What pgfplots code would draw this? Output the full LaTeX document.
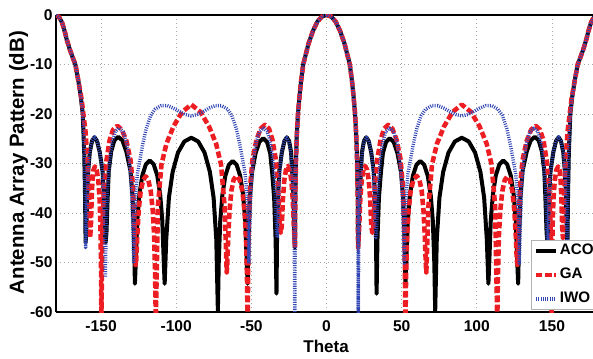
\documentclass[border=0pt]{standalone}
\usepackage{pgfplots}
\pgfplotsset{compat=1.18}
\usepackage{fontspec}
\setmainfont{Liberation Sans}
\definecolor{gared}{RGB}{236,30,36}
\definecolor{iwoblue}{RGB}{50,70,180}
\begin{document}
\begin{tikzpicture}
\useasboundingbox (-28pt,-23pt) rectangle (268.5pt,156pt);
\begin{axis}[
  scale only axis, width=268.5pt, height=148.5pt,
  xmin=-180, xmax=177.3, ymin=-60, ymax=0,
  xtick={-150,-100,-50,0,50,100,150},
  ytick={-60,-50,-40,-30,-20,-10,0},
  axis x line*=box, axis y line*=left,
  xticklabel pos=lower,
  axis line style={black, line width=0.6pt},
  major tick length=0pt,
  grid=major,
  grid style={gray!70, line width=0.4pt, dash pattern=on 0.6pt off 1.4pt},
  /pgf/number format/assume math mode=true,
  tick label style={font=\bfseries\fontsize{7.8}{9}\selectfont},
  yticklabel style={inner sep=1.5pt},
  xticklabel style={inner sep=1pt, yshift=-3pt},
  xlabel={Theta}, ylabel={Antenna Array Pattern (dB)},
  every axis x label/.style={at={(axis description cs:0.503,-0.1162)}, anchor=center, font=\bfseries\fontsize{8.5}{10}\selectfont},
  every axis y label/.style={at={(axis description cs:-0.0698,0.503)}, rotate=90, anchor=center, font=\bfseries\fontsize{10.2}{12}\selectfont},
  legend cell align=left,
  legend style={at={(0.885,0.2424)}, anchor=north west, draw=gray!60, line width=0.4pt, fill=white,
    font=\bfseries\fontsize{7.6}{9}\selectfont, inner sep=1pt, row sep=3.6pt, column sep=0pt,
    nodes={inner sep=0.8pt}},
  legend image code/.code={\draw[#1] (0pt,0pt) -- (10pt,0pt);},
  every axis plot/.append style={line join=round},
]
\addplot[black, line width=2pt] coordinates {
(-180,0) (-178,-0.4) (-176,-1.5) (-174,-3.5) (-173,-4.8) (-171,-6.8) (-169,-8.5) (-167.1,-10) (-165,-13.5) (-163.5,-16.5) (-162.2,-20) (-161.2,-28) (-160.7,-36) (-160.3,-46)
(-159.9,-44) (-159.3,-36.8) (-158.6,-31.6) (-157.5,-27.7) (-156.0,-25.45) (-154.4,-24.7) (-152.7,-25.45) (-150.9,-27.7) (-149.0,-31.6) (-148.06,-36.8) (-147.4,-44) (-147,-46)
(-146.42,-44) (-145.6,-36.7) (-144.9,-31.5) (-143.3,-27.6) (-141.2,-25.35) (-138.6,-24.6) (-135.8,-25.35) (-133.2,-27.6) (-130.43,-31.5) (-129.06,-36.7) (-128.09,-45.1) (-127.5,-54.3)
(-126.91,-49.9) (-125.92,-41.5) (-124.53,-36.3) (-122.55,-32.4) (-120.17,-30.15) (-117.6,-29.4) (-115.03,-30.15) (-112.65,-32.4) (-110.67,-36.3) (-109.28,-41.5) (-108.29,-49.9) (-107.7,-54.3)
(-106.64,-45.3) (-104.87,-36.9) (-102.39,-31.7) (-98.85,-27.8) (-94.6,-25.55) (-90,-24.8) (-85.4,-25.55) (-81.15,-27.8) (-77.61,-31.7) (-75.13,-36.9) (-73.36,-45.3) (-72.3,-59.8)
(-71.71,-50.0) (-70.72,-41.6) (-69.33,-36.4) (-67.35,-32.5) (-64.97,-30.25) (-62.4,-29.5) (-59.83,-30.25) (-57.45,-32.5) (-55.47,-36.4) (-54.08,-41.6) (-53.09,-50.0) (-52.5,-54.3)
(-51.9,-45.4) (-51.0,-37.0) (-49.6,-31.8) (-47.2,-27.9) (-44.7,-25.65) (-42.1,-24.9) (-39.6,-25.65) (-37.5,-27.9) (-36.18,-31.8) (-34.84,-37.0) (-33.88,-45.4) (-33.3,-56.3)
(-32.93,-45.2) (-32.32,-36.8) (-31.46,-31.6) (-29.7,-27.7) (-28.0,-25.45) (-26.4,-24.7) (-24.9,-25.45) (-23.6,-27.7) (-22.85,-31.6) (-21.98,-36.8) (-21.37,-45.2) (-21,-47)
(-20.8,-37) (-20.4,-30) (-19.8,-24.5) (-19,-20) (-18,-16.5) (-17,-13.5) (-15.5,-10) (-14,-8.2) (-12,-5.8) (-9,-3.2) (-6,-1.3) (-3,-0.3)
(0,0) (3,-0.3) (6,-1.3) (9,-3.2) (12,-5.8) (14,-8.2) (15.5,-10) (17,-13.5) (18,-16.5) (19,-20) (19.8,-24.5) (20.4,-30) (20.8,-37) (21,-47)
(21.37,-45.2) (21.98,-36.8) (22.85,-31.6) (23.6,-27.7) (24.9,-25.45) (26.4,-24.7) (28.0,-25.45) (29.7,-27.7) (31.46,-31.6) (32.32,-36.8) (32.93,-45.2) (33.3,-56.3)
(33.88,-45.4) (34.84,-37.0) (36.18,-31.8) (37.5,-27.9) (39.6,-25.65) (42.1,-24.9) (44.7,-25.65) (47.2,-27.9) (49.6,-31.8) (51.0,-37.0) (51.9,-45.4) (52.5,-54.3)
(53.09,-50.0) (54.08,-41.6) (55.47,-36.4) (57.45,-32.5) (59.83,-30.25) (62.4,-29.5) (64.97,-30.25) (67.35,-32.5) (69.33,-36.4) (70.72,-41.6) (71.71,-50.0) (72.3,-59.8)
(73.36,-45.3) (75.13,-36.9) (77.61,-31.7) (81.15,-27.8) (85.4,-25.55) (90,-24.8) (94.6,-25.55) (98.85,-27.8) (102.39,-31.7) (104.87,-36.9) (106.64,-45.3) (107.7,-54.3)
(108.29,-49.9) (109.28,-41.5) (110.67,-36.3) (112.65,-32.4) (115.03,-30.15) (117.6,-29.4) (120.17,-30.15) (122.55,-32.4) (124.53,-36.3) (125.92,-41.5) (126.91,-49.9) (127.5,-54.3)
(128.09,-45.1) (129.06,-36.7) (130.43,-31.5) (133.2,-27.6) (135.8,-25.35) (138.6,-24.6) (141.2,-25.35) (143.3,-27.6) (144.9,-31.5) (145.6,-36.7) (146.42,-44) (147,-46)
(147.4,-44) (148.06,-36.8) (149.0,-31.6) (150.9,-27.7) (152.7,-25.45) (154.4,-24.7) (156.0,-25.45) (157.5,-27.7) (158.6,-31.6) (159.3,-36.8) (159.9,-44) (160.3,-46)
(160.7,-36) (161.2,-28) (162.2,-20) (163.5,-16.5) (165,-13.5) (167.1,-10) (169,-8.5) (171,-6.8) (173,-4.8) (174,-3.5) (176,-1.5) (178,-0.4) (180,0)
};
\addlegendentry{ACO}
\addplot[gared, line width=2.3pt, dash pattern=on 3.2pt off 1.4pt] coordinates {
(-180,0) (-178,-0.4) (-176,-1.5) (-174,-3.5) (-173,-4.8) (-171,-6.8) (-169,-8.5) (-167.1,-10) (-165,-13.5) (-163,-17) (-161.6,-20.5) (-160.4,-23.5) (-159.3,-28.3) (-158.2,-36) (-157.3,-45)
(-156.8,-42.7) (-156.3,-37.5) (-155.8,-33.6) (-155.1,-31.35) (-154.1,-30.6) (-152.9,-31.35) (-151.8,-33.6) (-150.93,-37.5) (-150.4,-42.7) (-150.03,-51.1) (-149.8,-62)
(-149.12,-42.9) (-147.98,-34.5) (-146.38,-29.3) (-144.4,-25.4) (-142,-23.15) (-139.2,-22.4) (-136.2,-23.15) (-133.2,-25.4) (-130.42,-29.3) (-128.82,-34.5) (-127.68,-42.9) (-127,-50.5)
(-126.6,-49.5) (-125.93,-44.7) (-124.99,-39.5) (-123.65,-35.6) (-122.04,-33.35) (-120.3,-32.6) (-118.56,-33.35) (-116.95,-35.6) (-115.61,-39.5) (-114.67,-44.7) (-114.0,-53.1) (-113.6,-62)
(-112.18,-38.6) (-109.82,-30.2) (-106.52,-26) (-101.8,-22.5) (-96.14,-19.6) (-90,-18.1) (-83.86,-19.6) (-78.2,-22.5) (-73.48,-26) (-70.18,-30.2) (-67.82,-38.6) (-66.4,-52)
(-66.08,-50.5) (-65.38,-44.6) (-64.5,-39.4) (-63.3,-35.5) (-61.8,-33.25) (-60,-32.5) (-57.9,-33.25) (-56.0,-35.5) (-54.6,-39.4) (-53.62,-44.6) (-52.92,-53) (-52.5,-62)
(-51.84,-42.7) (-50.74,-34.3) (-49.2,-29.1) (-46.6,-25.2) (-43.8,-22.95) (-41.0,-22.2) (-38.3,-22.95) (-36.0,-25.2) (-33.8,-29.1) (-32.26,-34.3) (-31.16,-42.7) (-30.5,-44)
(-29.74,-42.6) (-29.08,-37.4) (-28.13,-33.5) (-26.98,-31.25) (-25.75,-30.5) (-24.52,-31.25) (-23.38,-33.5) (-22.43,-37.4) (-21.76,-42.6) (-21,-47)
(-20.8,-37) (-20.4,-30) (-19.8,-24.5) (-19,-20) (-18,-16.5) (-17,-13.5) (-15.5,-10) (-14,-8.2) (-12,-5.8) (-9,-3.2) (-6,-1.3) (-3,-0.3)
(0,0) (3,-0.3) (6,-1.3) (9,-3.2) (12,-5.8) (14,-8.2) (15.5,-10) (17,-13.5) (18,-16.5) (19,-20) (19.8,-24.5) (20.4,-30) (20.8,-37) (21,-47)
(21.76,-42.6) (22.43,-37.4) (23.38,-33.5) (24.52,-31.25) (25.75,-30.5) (26.98,-31.25) (28.13,-33.5) (29.08,-37.4) (29.74,-42.6) (30.5,-44)
(31.16,-42.7) (32.26,-34.3) (33.8,-29.1) (36.0,-25.2) (38.3,-22.95) (41.0,-22.2) (43.8,-22.95) (46.6,-25.2) (49.2,-29.1) (50.74,-34.3) (51.84,-42.7) (52.5,-62)
(52.92,-53) (53.62,-44.6) (54.6,-39.4) (56.0,-35.5) (57.9,-33.25) (60,-32.5) (61.8,-33.25) (63.3,-35.5) (64.5,-39.4) (65.38,-44.6) (66.08,-50.5) (66.4,-52)
(67.82,-38.6) (70.18,-30.2) (73.48,-26) (78.2,-22.5) (83.86,-19.6) (90,-18.1) (96.14,-19.6) (101.8,-22.5) (106.52,-26) (109.82,-30.2) (112.18,-38.6) (113.6,-62)
(114.0,-53.1) (114.67,-44.7) (115.61,-39.5) (116.95,-35.6) (118.56,-33.35) (120.3,-32.6) (122.04,-33.35) (123.65,-35.6) (124.99,-39.5) (125.93,-44.7) (126.6,-49.5) (127,-50.5)
(127.68,-42.9) (128.82,-34.5) (130.42,-29.3) (133.2,-25.4) (136.2,-23.15) (139.2,-22.4) (142,-23.15) (144.4,-25.4) (146.38,-29.3) (147.98,-34.5) (149.12,-42.9) (149.8,-62)
(150.03,-51.1) (150.4,-42.7) (150.93,-37.5) (151.8,-33.6) (152.9,-31.35) (154.1,-30.6) (155.1,-31.35) (155.8,-33.6) (156.3,-37.5) (156.8,-42.7) (157.3,-45)
(158.2,-36) (159.3,-28.3) (160.4,-23.5) (161.6,-20.5) (163,-17) (165,-13.5) (167.1,-10) (169,-8.5) (171,-6.8) (173,-4.8) (174,-3.5) (176,-1.5) (178,-0.4) (180,0)
};
\addlegendentry{GA}
\addplot[iwoblue, line width=1.7pt, dash pattern=on 0.5pt off 0.65pt] coordinates {
(-180,0) (-178,-0.4) (-176,-1.5) (-174,-3.5) (-173,-4.8) (-171,-6.8) (-169,-8.5) (-167.1,-10) (-165,-13.5) (-163.5,-16.5) (-162.2,-20) (-161.2,-28) (-160.7,-36) (-160.3,-47)
(-159.9,-44) (-159.3,-36.8) (-158.6,-31.6) (-157.5,-27.7) (-156.0,-25.45) (-154.4,-24.6) (-152.6,-25.45) (-150.9,-27.7) (-149.1,-31.6) (-148.2,-36.8) (-147.6,-43.5) (-147.2,-53)
(-146.63,-43.3) (-145.69,-34.9) (-144.36,-29.7) (-142.7,-25.8) (-140.6,-23.55) (-138,-22.8) (-135.4,-23.55) (-133.1,-25.8) (-131.13,-29.7) (-129.81,-34.9) (-128.87,-43.3) (-128.3,-50.2)
(-127.8,-42) (-127,-36) (-125.8,-32) (-124.6,-30) (-122.4,-26.3) (-120,-23) (-117,-20.3) (-114,-19) (-110,-18.3) (-106,-18.3) (-102,-18.8) (-98,-19.5) (-94,-20.1)
(-90,-20.4) (-86,-20.1) (-82,-19.5) (-78,-18.8) (-74,-18.3) (-70,-18.3) (-66,-19) (-63,-20.3) (-60,-23) (-57.6,-26.3) (-55.4,-30) (-54.2,-32) (-53,-36) (-52.2,-42) (-51.7,-50.2)
(-51.13,-43.3) (-50.19,-34.9) (-48.87,-29.7) (-46.9,-25.8) (-44.6,-23.55) (-42,-22.8) (-39.4,-23.55) (-37.3,-25.8) (-35.64,-29.7) (-34.31,-34.9) (-33.37,-43.3) (-32.8,-45)
(-32.45,-43.5) (-31.86,-36.8) (-31.04,-31.6) (-29.8,-27.7) (-28.2,-25.45) (-26.6,-24.7) (-25.0,-25.45) (-23.8,-27.7) (-22.86,-31.6) (-22.04,-36.8) (-21.45,-45.2) (-21.1,-62)
(-20.8,-37) (-20.4,-30) (-19.8,-24.5) (-19,-20) (-18,-16.5) (-17,-13.5) (-15.5,-10) (-14,-8.2) (-12,-5.8) (-9,-3.2) (-6,-1.3) (-3,-0.3)
(0,0) (3,-0.3) (6,-1.3) (9,-3.2) (12,-5.8) (14,-8.2) (15.5,-10) (17,-13.5) (18,-16.5) (19,-20) (19.8,-24.5) (20.4,-30) (20.8,-37) (21.1,-62)
(21.45,-45.2) (22.04,-36.8) (22.86,-31.6) (23.8,-27.7) (25.0,-25.45) (26.6,-24.7) (28.2,-25.45) (29.8,-27.7) (31.04,-31.6) (31.86,-36.8) (32.45,-43.5) (32.8,-45)
(33.37,-43.3) (34.31,-34.9) (35.64,-29.7) (37.3,-25.8) (39.4,-23.55) (42,-22.8) (44.6,-23.55) (46.9,-25.8) (48.87,-29.7) (50.19,-34.9) (51.13,-43.3) (51.7,-50.2)
(52.2,-42) (53,-36) (54.2,-32) (55.4,-30) (57.6,-26.3) (60,-23) (63,-20.3) (66,-19) (70,-18.3) (74,-18.3) (78,-18.8) (82,-19.5) (86,-20.1) (90,-20.4)
(94,-20.1) (98,-19.5) (102,-18.8) (106,-18.3) (110,-18.3) (114,-19) (117,-20.3) (120,-23) (122.4,-26.3) (124.6,-30) (125.8,-32) (127,-36) (127.8,-42) (128.3,-50.2)
(128.87,-43.3) (129.81,-34.9) (131.13,-29.7) (133.1,-25.8) (135.4,-23.55) (138,-22.8) (140.6,-23.55) (142.7,-25.8) (144.36,-29.7) (145.69,-34.9) (146.63,-43.3) (147.2,-53)
(147.6,-43.5) (148.2,-36.8) (149.1,-31.6) (150.9,-27.7) (152.6,-25.45) (154.4,-24.6) (156.0,-25.45) (157.5,-27.7) (158.6,-31.6) (159.3,-36.8) (159.9,-44) (160.3,-47)
(160.7,-36) (161.2,-28) (162.2,-20) (163.5,-16.5) (165,-13.5) (167.1,-10) (169,-8.5) (171,-6.8) (173,-4.8) (174,-3.5) (176,-1.5) (178,-0.4) (180,0)
};
\addlegendentry{IWO}
\end{axis}
\end{tikzpicture}
\end{document}
